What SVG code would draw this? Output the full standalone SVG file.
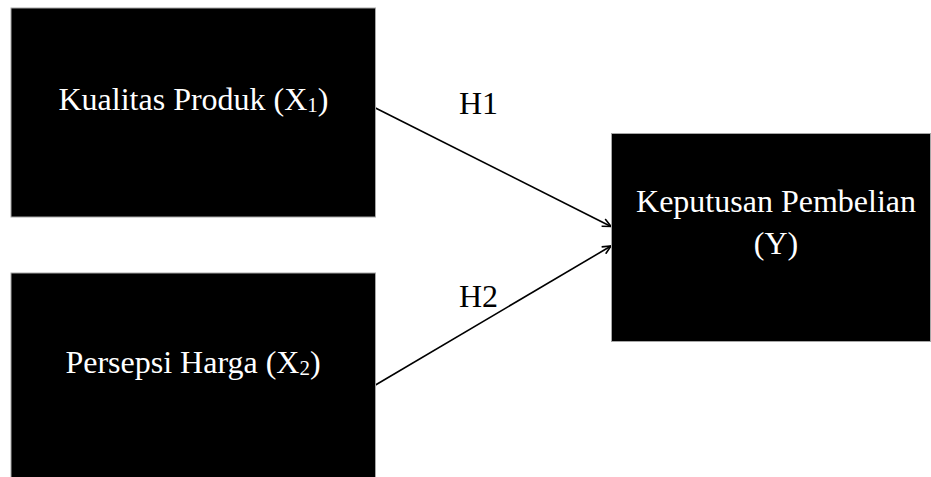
<svg xmlns="http://www.w3.org/2000/svg" width="931" height="477" viewBox="0 0 931 477">
  <style>
    .box { fill: #000000; stroke: #a6a6a6; stroke-width: 1; }
    .label { fill: #ffffff; font-family: "Liberation Serif", "Times New Roman", serif; font-size: 32px; text-anchor: middle; }
    .hyp { fill: #000000; font-family: "Liberation Serif", "Times New Roman", serif; font-size: 32px; }
    .sub { font-size: 21px; }
    .link { stroke: #000000; stroke-width: 1.6; fill: none; marker-end: url(#arrow); }
  </style>
  <defs>
    <marker id="arrow" viewBox="0 0 10 10" refX="9.5" refY="5" markerWidth="10" markerHeight="10" markerUnits="userSpaceOnUse" orient="auto">
      <path d="M1,1 L9.5,5 L1,9" fill="none" stroke="#000000" stroke-width="1.6"/>
    </marker>
  </defs>

  <rect width="931" height="477" fill="#ffffff"/>

  <g id="connectors">
    <line class="link" x1="375.5" y1="108" x2="611" y2="226.5"/>
    <line class="link" x1="375.5" y1="385" x2="611" y2="246"/>
    <text class="hyp" x="459" y="114">H1</text>
    <text class="hyp" x="459" y="307">H2</text>
  </g>

  <g id="kualitas-produk">
    <rect class="box" x="11" y="8" width="364.5" height="209"/>
    <text class="label" x="193.5" y="110">Kualitas Produk (X<tspan class="sub" dy="2">1</tspan><tspan dy="-2">)</tspan></text>
  </g>

  <g id="persepsi-harga">
    <rect class="box" x="11" y="273" width="364.5" height="212"/>
    <text class="label" x="193" y="373">Persepsi Harga (X<tspan class="sub" dy="2">2</tspan><tspan dy="-2">)</tspan></text>
  </g>

  <g id="keputusan-pembelian">
    <rect class="box" x="611.5" y="133.5" width="319" height="208"/>
    <text class="label" x="776" y="212">Keputusan Pembelian</text>
    <text class="label" x="776" y="254">(Y)</text>
  </g>
</svg>
